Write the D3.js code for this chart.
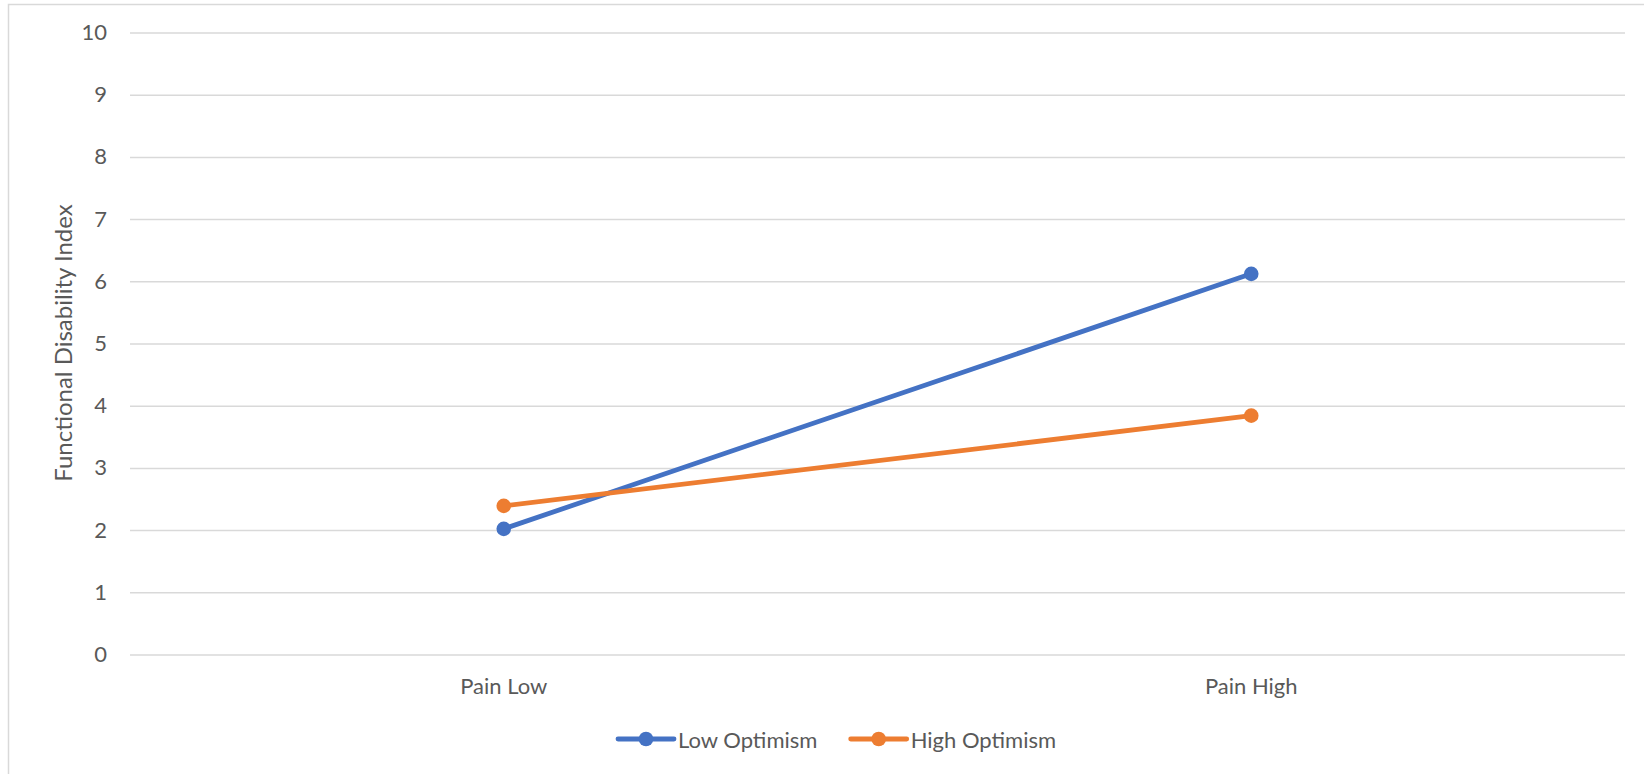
<!DOCTYPE html>
<html>
<head>
<meta charset="utf-8">
<script src="https://cdn.jsdelivr.net/npm/d3@7/dist/d3.min.js"></script>
<style>
  html, body { margin: 0; padding: 0; background: #fff; }
  svg { display: block; }
  text { font-family: Lato, "Open Sans", sans-serif; fill: #595959; }
</style>
</head>
<body>
<svg id="chart" width="1644" height="774"></svg>
<script>
// Functional disability by pain level, split by optimism
const categories = ["Pain Low", "Pain High"];
const seriesNames = ["Low Optimism", "High Optimism"];
const lowOptimism = [2.02, 6.12];
const highOptimism = [2.39, 3.84];
const yTicks = [0, 1, 2, 3, 4, 5, 6, 7, 8, 9, 10];
const colors = ["#4472C4", "#ED7D31"];
const yTitle = "Functional Disability Index";

const series = [
  { name: seriesNames[0], values: lowOptimism, color: colors[0] },
  { name: seriesNames[1], values: highOptimism, color: colors[1] }
];

const svg = d3.select("#chart");
const W = 1644, H = 774;
const margin = { left: 130, right: 19, top: 32.5, bottom: 119.5 };
const innerW = W - margin.left - margin.right;
const innerH = H - margin.top - margin.bottom;
const labelSize = 22;

// chart area border
svg.append("rect")
  .attr("x", 8.5).attr("y", 4.5)
  .attr("width", W + 10).attr("height", H + 10)
  .attr("fill", "none").attr("stroke", "#D9D9D9").attr("stroke-width", 1.5);

const g = svg.append("g").attr("transform", `translate(${margin.left},${margin.top})`);

const x = d3.scaleBand().domain(categories).range([0, innerW]);
const y = d3.scaleLinear().domain([0, 10]).range([innerH, 0]);

// horizontal gridlines with value labels
const yAxis = d3.axisLeft(y).tickValues(yTicks).tickSize(-innerW).tickPadding(23).tickFormat(d3.format("d"));
g.append("g").call(yAxis)
  .call(s => s.select(".domain").remove())
  .call(s => s.selectAll(".tick line").attr("stroke", "#D9D9D9").attr("stroke-width", 1.5))
  .call(s => s.selectAll(".tick text").attr("font-size", labelSize).style("fill", "#595959")
    .style("font-family", "Lato, 'Open Sans', sans-serif"));

// category labels
const xAxis = d3.axisBottom(x).tickSize(0).tickPadding(24);
g.append("g").attr("transform", `translate(0,${innerH})`).call(xAxis)
  .call(s => s.select(".domain").remove())
  .call(s => s.selectAll(".tick text").attr("font-size", labelSize).style("fill", "#595959")
    .style("font-family", "Lato, 'Open Sans', sans-serif"));

// y axis title
svg.append("text")
  .attr("transform", `translate(62,343) rotate(-90)`)
  .attr("text-anchor", "middle").attr("dominant-baseline", "central")
  .attr("font-size", 24)
  .text(yTitle);

// series lines and markers
const line = d3.line()
  .x((d, i) => x(categories[i]) + x.bandwidth() / 2)
  .y(d => y(d));

series.forEach(s => {
  g.append("path")
    .attr("d", line(s.values))
    .attr("fill", "none").attr("stroke", s.color)
    .attr("stroke-width", 4.8).attr("stroke-linecap", "round");
  g.selectAll(null).data(s.values).enter().append("circle")
    .attr("cx", (d, i) => x(categories[i]) + x.bandwidth() / 2)
    .attr("cy", d => y(d))
    .attr("r", 7.3)
    .attr("fill", s.color);
});

// legend
const legendY = 739;
const legendX = [618, 850.7];
series.forEach((s, i) => {
  const lg = svg.append("g").attr("transform", `translate(${legendX[i]},${legendY})`);
  lg.append("line").attr("x1", 0).attr("x2", 56).attr("y1", 0).attr("y2", 0)
    .attr("stroke", s.color).attr("stroke-width", 4.8).attr("stroke-linecap", "round");
  lg.append("circle").attr("cx", 28).attr("cy", 0).attr("r", 7.3).attr("fill", s.color);
  lg.append("text").attr("x", 60).attr("y", 0).attr("dominant-baseline", "central")
    .attr("font-size", labelSize).text(s.name);
});
</script>
</body>
</html>
